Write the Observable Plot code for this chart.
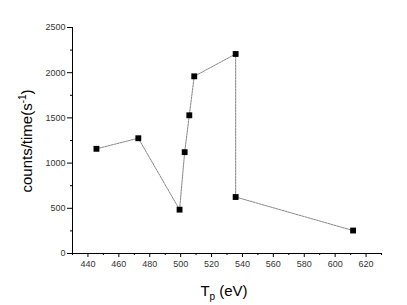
<!DOCTYPE html>
<html><head><meta charset="utf-8">
<script src="https://cdn.jsdelivr.net/npm/d3@7"></script>
<script src="https://cdn.jsdelivr.net/npm/@observablehq/plot@0.6"></script>
<style>
body{margin:0;background:#fff;}
svg{font-family:"Liberation Sans",Arial,sans-serif;}
</style>
</head><body><div id="chart"></div>
<script>
const tp = [445.5, 472.6, 499.3, 502.6, 505.6, 508.8, 535.6, 535.6, 611.6];
const counts = [1158, 1275, 485, 1121, 1529, 1960, 2207, 625, 254];
const xTicks = [440, 460, 480, 500, 520, 540, 560, 580, 600, 620];
const xMinor = [430, 450, 470, 490, 510, 530, 550, 570, 590, 610, 630];
const yTicks = [0, 500, 1000, 1500, 2000, 2500];
const yMinor = [250, 750, 1250, 1750, 2250];

const data = tp.map((x, i) => ({x, y: counts[i]}));

const plot = Plot.plot({
  width: 407, height: 305,
  marginLeft: 72, marginRight: 26, marginTop: 27, marginBottom: 52,
  style: {fontFamily: '"Liberation Sans",Arial,sans-serif', fontSize: "9px", color: "#000", background: "#fff"},
  x: {domain: [430, 630]},
  y: {domain: [0, 2500]},
  marks: [
    Plot.ruleY([0], {stroke: "#000", strokeWidth: 1}),
    Plot.ruleX([430], {stroke: "#000", strokeWidth: 1}),
    Plot.axisX({ticks: xTicks, tickSize: 4, tickPadding: 3, label: null, stroke: "#000", fill: "#333"}),
    Plot.axisX({ticks: xMinor, tickSize: 2, text: null, label: null, stroke: "#000"}),
    Plot.axisY({ticks: yTicks, tickSize: 5, tickPadding: 2, label: null, tickFormat: d => String(d), stroke: "#000", fill: "#333"}),
    Plot.axisY({ticks: yMinor, tickSize: 2, text: null, label: null, stroke: "#000"}),
    Plot.line(data, {x: "x", y: "y", stroke: "#777", strokeWidth: 0.9, strokeDasharray: "2,1"}),
    Plot.dot(data, {x: "x", y: "y", symbol: "square", r: 3.3, fill: "#000", stroke: "none"})
  ]
});
document.getElementById("chart").appendChild(plot);

const svg = d3.select(plot);
const xt = svg.append("text").attr("x", 224).attr("y", 296).attr("text-anchor", "middle")
  .attr("font-size", 15).attr("fill", "#000").attr("font-family", '"Liberation Sans",Arial,sans-serif');
xt.append("tspan").text("T");
xt.append("tspan").attr("font-size", 10).attr("dy", 4).text("p");
xt.append("tspan").attr("dy", -4).text(" (eV)");

const yt = svg.append("text").attr("transform", "translate(32,141) rotate(-90)").attr("text-anchor", "middle")
  .attr("font-size", 15).attr("fill", "#000").attr("font-family", '"Liberation Sans",Arial,sans-serif');
yt.append("tspan").text("counts/time(s");
yt.append("tspan").attr("font-size", 10).attr("dy", -6).text("-1");
yt.append("tspan").attr("dy", 6).text(")");
</script></body></html>
